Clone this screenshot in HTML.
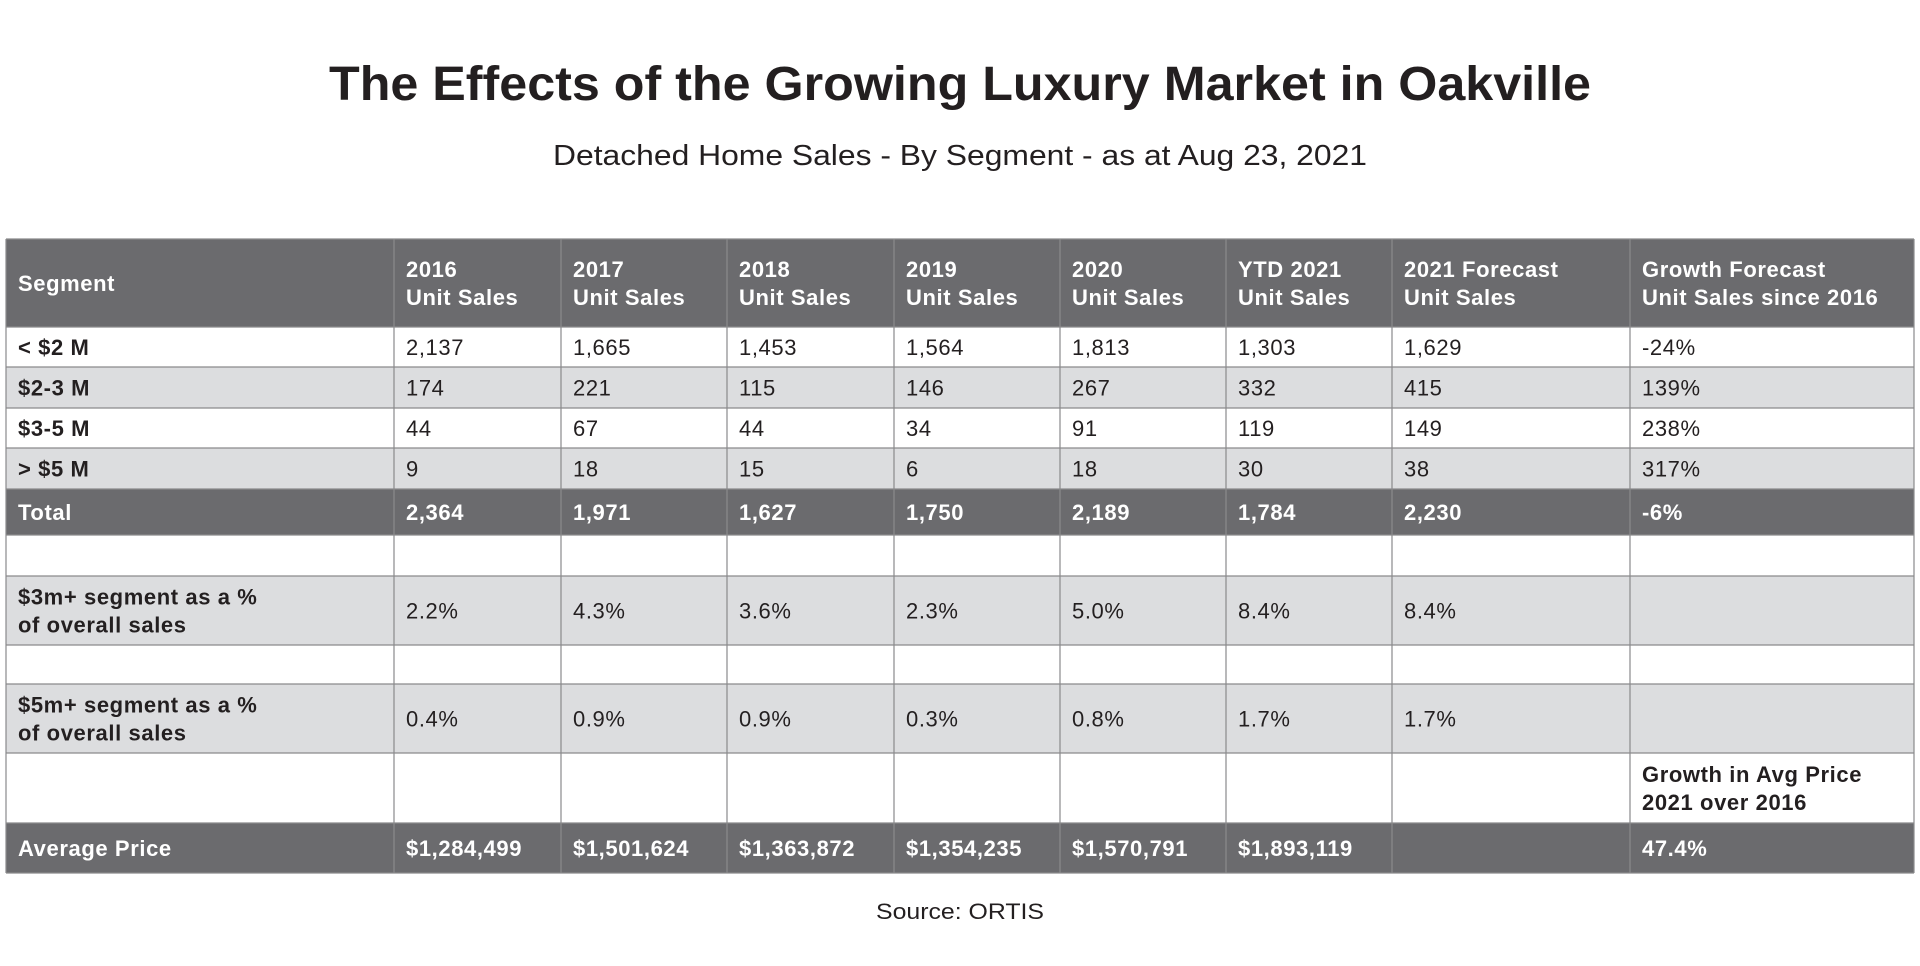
<!DOCTYPE html>
<html><head><meta charset="utf-8"><style>
html,body{margin:0;padding:0;background:#fff;width:1920px;height:966px;overflow:hidden}
svg{display:block;font-family:"Liberation Sans",sans-serif}
#tbl text{letter-spacing:0.6px}
</style></head><body>
<svg id="s" width="1920" height="966" viewBox="0 0 1920 966">
<text x="960" y="100" text-anchor="middle" font-size="48" font-weight="bold" fill="#231f20" textLength="1262" lengthAdjust="spacingAndGlyphs">The Effects of the Growing Luxury Market in Oakville</text>
<text x="960" y="165" text-anchor="middle" font-size="29" fill="#231f20" textLength="814" lengthAdjust="spacingAndGlyphs">Detached Home Sales - By Segment - as at Aug 23, 2021</text>
<text x="960" y="919" text-anchor="middle" font-size="22" fill="#231f20" textLength="168" lengthAdjust="spacingAndGlyphs">Source: ORTIS</text>
<g id="tbl"></g>
</svg>
<script>
const headers=[["Segment"],["2016","Unit Sales"],["2017","Unit Sales"],["2018","Unit Sales"],["2019","Unit Sales"],["2020","Unit Sales"],["YTD 2021","Unit Sales"],["2021 Forecast","Unit Sales"],["Growth Forecast","Unit Sales since 2016"]];
const rowLabels=[["< $2 M"],["$2-3 M"],["$3-5 M"],["> $5 M"],["Total"],[""],["$3m+ segment as a %","of overall sales"],[""],["$5m+ segment as a %","of overall sales"],[""],["Average Price"]];
const rowValues=[
["2,137","1,665","1,453","1,564","1,813","1,303","1,629","-24%"],
["174","221","115","146","267","332","415","139%"],
["44","67","44","34","91","119","149","238%"],
["9","18","15","6","18","30","38","317%"],
["2,364","1,971","1,627","1,750","2,189","1,784","2,230","-6%"],
["","","","","","","",""],
["2.2%","4.3%","3.6%","2.3%","5.0%","8.4%","8.4%",""],
["","","","","","","",""],
["0.4%","0.9%","0.9%","0.3%","0.8%","1.7%","1.7%",""],
["","","","","","","","Growth in Avg Price|2021 over 2016"],
["$1,284,499","$1,501,624","$1,363,872","$1,354,235","$1,570,791","$1,893,119","","47.4%"]];
const colX=[6,394,561,727,894,1060,1226,1392,1630,1914];
const rowY=[239,327,367,408,448,489,535,576,645,684,753,823,873];
const rowKind=["w","g","w","g","d","w","g","w","g","w","d"];
const ns="http://www.w3.org/2000/svg";
const g=document.getElementById('tbl');
function mk(t,a){const e=document.createElementNS(ns,t);for(const k in a)e.setAttribute(k,a[k]);return e;}
function txt(lines,x,yTop,yBot,fill,weight,name){
  const lh=28, n=lines.length, cy=(yTop+yBot)/2;
  lines.forEach((s,i)=>{
    const t=mk('text',{x:x,y:cy+(i-(n-1)/2)*lh+8,'font-size':22,fill:fill,'font-weight':weight});
    t.textContent=s;
    
    
    g.appendChild(t);
  });
}
let hr=mk('rect',{x:colX[0],y:rowY[0],width:colX[9]-colX[0],height:rowY[1]-rowY[0],fill:'#6b6b6e'});


g.appendChild(hr);
headers.forEach((h,c)=>txt(h,colX[c]+12,rowY[0],rowY[1],'#fff','bold','column-header'));
rowLabels.forEach((lab,r)=>{
  const k=rowKind[r], y0=rowY[r+1], y1=rowY[r+2];
  const fill=k==='d'?'#6b6b6e':(k==='g'?'#dcdddf':'#fff');
  const rc=mk('rect',{x:colX[0],y:y0,width:colX[9]-colX[0],height:y1-y0,fill:fill});
  
  
  g.appendChild(rc);
  const tc=k==='d'?'#fff':'#231f20';
  txt(lab,colX[0]+12,y0,y1,tc,'bold','row-label');
  rowValues[r].forEach((v,c)=>{
    if(!v)return;
    const isNote=v.indexOf('|')>=0;
    txt(v.split('|'),colX[c+1]+12,y0,y1,tc,(k==='d'||isNote)?'bold':'normal','cell-value');
  });
});
rowY.forEach(y=>{const l=mk('line',{x1:colX[0],x2:colX[9],y1:y,y2:y,stroke:'#8a8a8c','stroke-width':1.2});
  
  
  g.appendChild(l);});
colX.forEach(x=>{const l=mk('line',{x1:x,x2:x,y1:rowY[0],y2:rowY[12],stroke:'#8a8a8c','stroke-width':1.2});
  
  
  g.appendChild(l);});
</script>
</body></html>
